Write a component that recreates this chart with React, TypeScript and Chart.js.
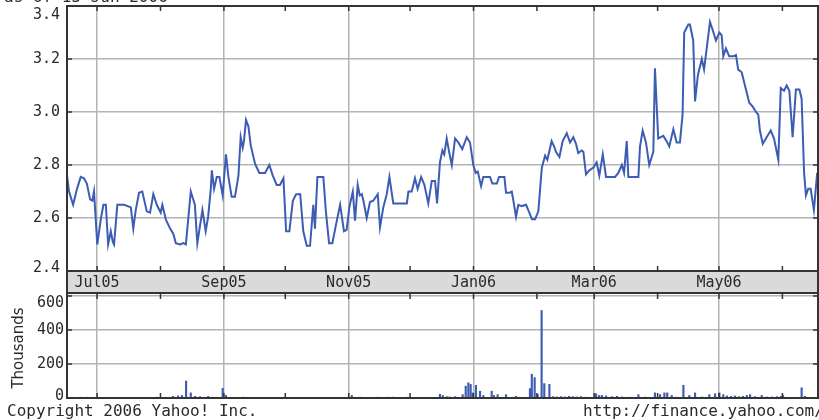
import React, { useEffect, useRef } from "react";
import { Chart, registerables } from "chart.js";
Chart.register(...registerables);

// x values are days counted from 1 Jul 2005
const X_MIN = -14.7;
const X_MAX = 352.4;
const monthTickDays = [0, 31, 62, 92, 123, 153, 184, 215, 243, 274, 304, 335];
const monthTickLabels = ["Jul05", "", "Sep05", "", "Nov05", "", "Jan06", "", "Mar06", "", "May06", ""];
const priceTicks = [2.4, 2.6, 2.8, 3.0, 3.2, 3.4];
const volumeTicks = [0, 200, 400, 600];

const priceDays = [-14.7,-13.7,-11.7,-9.8,-8.0,-6.4,-5.0,-3.4,-2.3,-1.5,0.1,1.8,3.1,4.3,5.4,6.7,7.7,8.3,9.9,13.2,16.5,17.7,18.9,20.5,22.1,24.3,25.9,27.5,29.2,31.1,31.9,33.6,35.7,37.3,38.5,40.6,42.2,43.4,45.8,47.8,49.0,51.5,53.1,54.3,55.6,56.1,57.2,58.5,59.8,61.4,63.0,64.2,65.8,67.4,69.1,70.2,71.2,71.8,72.8,74.0,75.1,77.2,79.3,82.1,84.2,85.9,87.8,89.4,91.1,92.4,94.0,95.7,97.3,99.3,100.8,102.5,104.1,105.7,106.5,107.7,110.6,111.9,113.4,115.0,116.8,118.8,120.7,122.0,123.3,125.0,126.1,127.4,128.4,129.4,130.2,131.8,133.4,135.0,137.2,138.3,139.9,141.6,142.9,144.8,151.4,152.2,153.8,155.4,156.7,158.4,160.0,161.9,163.6,165.2,166.2,167.6,168.8,169.7,170.9,172.2,173.4,175.0,176.6,178.5,180.7,182.3,183.9,185.1,186.1,187.7,188.8,192.1,193.2,195.4,196.5,199.1,199.9,201.5,202.7,203.5,204.8,205.9,207.6,209.7,211.3,212.6,214.1,215.7,217.4,219.0,220.1,222.2,223.4,224.3,226.0,227.6,229.6,231.2,232.8,234.1,235.2,236.9,237.7,239.0,240.6,242.6,244.2,245.5,247.2,248.8,253.2,254.8,256.5,257.6,258.9,259.7,264.6,265.4,266.7,268.3,269.9,271.9,272.7,274.3,276.8,278.4,279.7,281.7,283.3,284.9,286.2,287.0,289.0,289.8,291.4,292.3,293.7,295.6,296.7,298.0,299.6,300.9,302.5,304.2,305.3,306.1,307.4,309.0,311.0,312.3,313.4,315.1,316.7,318.8,320.5,322.1,323.2,324.0,325.4,327.3,329.3,330.9,333.0,334.2,335.8,337.1,338.4,340.0,341.6,343.3,344.4,345.6,346.5,347.6,348.8,350.4,352.0];

const priceValues = [2.76,2.70,2.65,2.71,2.755,2.75,2.73,2.67,2.665,2.70,2.50,2.595,2.65,2.65,2.50,2.55,2.51,2.50,2.65,2.65,2.64,2.56,2.63,2.695,2.70,2.625,2.62,2.69,2.65,2.62,2.65,2.595,2.56,2.54,2.505,2.50,2.505,2.50,2.70,2.65,2.505,2.63,2.55,2.605,2.71,2.78,2.71,2.755,2.755,2.685,2.84,2.755,2.68,2.68,2.76,2.905,2.865,2.89,2.97,2.945,2.875,2.805,2.77,2.77,2.80,2.76,2.725,2.725,2.75,2.55,2.55,2.665,2.69,2.69,2.55,2.495,2.495,2.65,2.56,2.755,2.755,2.62,2.505,2.505,2.575,2.65,2.55,2.555,2.64,2.70,2.59,2.725,2.685,2.69,2.665,2.60,2.66,2.665,2.69,2.565,2.64,2.69,2.755,2.655,2.655,2.70,2.70,2.75,2.71,2.755,2.725,2.655,2.74,2.74,2.655,2.81,2.855,2.84,2.90,2.845,2.80,2.90,2.885,2.86,2.905,2.885,2.80,2.77,2.775,2.72,2.755,2.755,2.73,2.73,2.755,2.755,2.695,2.695,2.70,2.665,2.605,2.65,2.645,2.65,2.62,2.595,2.595,2.625,2.79,2.835,2.82,2.89,2.87,2.85,2.83,2.89,2.92,2.885,2.905,2.88,2.845,2.855,2.85,2.765,2.78,2.79,2.81,2.76,2.84,2.755,2.755,2.77,2.80,2.77,2.89,2.755,2.755,2.87,2.93,2.885,2.80,2.85,3.165,2.90,2.91,2.89,2.87,2.935,2.885,2.885,2.99,3.30,3.33,3.33,3.27,3.04,3.14,3.20,3.16,3.24,3.34,3.31,3.27,3.30,3.29,3.21,3.24,3.21,3.21,3.215,3.16,3.15,3.10,3.035,3.02,3.00,2.99,2.93,2.88,2.905,2.93,2.90,2.82,3.09,3.08,3.10,3.08,2.905,3.085,3.085,3.05,2.77,2.685,2.71,2.71,2.63,2.77];

const volumeDays = [-12.2,-8.3,-4.9,29.3,37.1,39.6,41.5,43.5,45.8,47.9,50.3,54.3,61.4,63.0,71.4,84.6,100.7,124.5,128.5,137.3,142.2,144.7,152.0,167.6,169.0,171.1,172.5,175.0,178.7,180.2,181.5,182.6,183.6,185.2,187.2,188.8,192.9,194.0,195.8,199.9,204.8,211.6,212.5,213.9,215.4,217.3,218.6,221.1,222.9,224.8,226.8,228.7,230.7,232.6,234.6,236.5,239.0,243.9,245.4,246.8,248.8,251.7,254.2,256.6,260.5,264.6,267.9,272.7,275.2,277.3,278.7,280.9,283.5,286.6,289.5,292.3,295.7,299.3,302.1,304.2,306.1,307.9,309.9,311.8,313.7,315.7,317.6,319.2,321.6,324.9,327.5,329.9,332.4,334.3,335.3,344.4,346.0];
const volumeValues = [3,3,3,5,10,12,15,100,30,10,8,10,57,15,5,3,3,15,5,5,5,5,5,22,15,8,6,8,20,70,90,80,30,75,40,15,40,15,20,20,10,55,140,120,20,515,85,80,8,6,8,6,10,8,6,8,5,25,15,15,12,8,10,6,5,20,5,30,20,30,30,15,5,75,15,30,6,20,25,30,20,12,10,12,8,10,15,20,8,15,6,6,8,10,15,60,10];

const headerText = "as of 15-Jun-2006";
const copyrightText = "Copyright 2006 Yahoo! Inc.";
const urlText = "http://finance.yahoo.com/";
const volumeAxisTitle = "Thousands";

const MONO = '"DejaVu Sans Mono", "Liberation Mono", monospace';
const SANS = '"DejaVu Sans", "Liberation Sans", sans-serif';
const TEXT = "#2a2a2a";
const LINE = "#3d5cb4";
const GRID = "#b4b4b4";
const FRAME = "#333333";
const BAND = "#dadada";

const W = 819;
const PRICE_H = 294;
const VOL_H = 126;
const BAND_BOTTOM = 293;

const clamp = (v: number, lo: number, hi: number) => Math.max(lo, Math.min(hi, v));

const pricePlugin = {
  id: "priceDeco",
  beforeDraw(chart: any) {
    const { ctx, chartArea: a } = chart;
    ctx.save();
    ctx.fillStyle = "#ffffff";
    ctx.fillRect(0, 0, chart.width, chart.height);
    ctx.fillStyle = BAND;
    ctx.fillRect(a.left, a.bottom, a.right - a.left, BAND_BOTTOM - a.bottom);
    ctx.restore();
  },
  afterDraw(chart: any) {
    const { ctx, chartArea: a, scales } = chart;
    const xs = scales.x;
    const ys = scales.y;
    ctx.save();
    ctx.strokeStyle = FRAME;
    ctx.lineWidth = 2;
    ctx.beginPath();
    ctx.moveTo(a.left - 1, a.top);
    ctx.lineTo(a.right + 1, a.top);
    ctx.moveTo(a.left, a.top);
    ctx.lineTo(a.left, PRICE_H);
    ctx.moveTo(a.right, a.top);
    ctx.lineTo(a.right, PRICE_H);
    ctx.moveTo(a.left, a.bottom);
    ctx.lineTo(a.right, a.bottom);
    ctx.moveTo(a.left, BAND_BOTTOM);
    ctx.lineTo(a.right, BAND_BOTTOM);
    ctx.stroke();

    ctx.lineWidth = 1.5;
    ctx.beginPath();
    for (const d of monthTickDays) {
      const px = xs.getPixelForValue(d);
      ctx.moveTo(px, a.top);
      ctx.lineTo(px, a.top + 5);
      ctx.moveTo(px, a.bottom - 5);
      ctx.lineTo(px, a.bottom);
    }
    for (const v of priceTicks) {
      const py = ys.getPixelForValue(v);
      ctx.moveTo(a.left, py);
      ctx.lineTo(a.left + 5, py);
      ctx.moveTo(a.right - 5, py);
      ctx.lineTo(a.right, py);
    }
    ctx.stroke();

    ctx.fillStyle = TEXT;
    ctx.font = `15px ${MONO}`;
    ctx.textAlign = "right";
    ctx.textBaseline = "middle";
    for (const v of priceTicks) {
      const py = clamp(ys.getPixelForValue(v), a.top + 9, a.bottom - 3);
      ctx.fillText(v.toFixed(1), a.left - 7, py);
    }
    ctx.font = `16px ${MONO}`;
    ctx.textAlign = "left";
    ctx.textBaseline = "alphabetic";
    ctx.fillText(headerText, 4, 2);
    ctx.restore();
  },
};

const volumePlugin = {
  id: "volDeco",
  beforeDraw(chart: any) {
    const { ctx } = chart;
    ctx.save();
    ctx.fillStyle = "#ffffff";
    ctx.fillRect(0, 0, chart.width, chart.height);
    ctx.restore();
  },
  afterDraw(chart: any) {
    const { ctx, chartArea: a, scales } = chart;
    const xs = scales.x;
    const ys = scales.y;
    ctx.save();
    ctx.strokeStyle = FRAME;
    ctx.lineWidth = 2;
    ctx.beginPath();
    ctx.moveTo(a.left, 0);
    ctx.lineTo(a.left, a.bottom + 1);
    ctx.moveTo(a.right, 0);
    ctx.lineTo(a.right, a.bottom + 1);
    ctx.moveTo(a.left, a.bottom);
    ctx.lineTo(a.right, a.bottom);
    ctx.stroke();

    ctx.lineWidth = 1.5;
    ctx.beginPath();
    for (const d of monthTickDays) {
      const px = xs.getPixelForValue(d);
      ctx.moveTo(px, 0);
      ctx.lineTo(px, 5);
      ctx.moveTo(px, a.bottom - 5);
      ctx.lineTo(px, a.bottom);
    }
    for (const v of volumeTicks) {
      const py = ys.getPixelForValue(v);
      ctx.moveTo(a.left, py);
      ctx.lineTo(a.left + 5, py);
      ctx.moveTo(a.right - 5, py);
      ctx.lineTo(a.right, py);
    }
    ctx.stroke();

    ctx.fillStyle = TEXT;
    ctx.font = `15px ${MONO}`;
    ctx.textAlign = "right";
    ctx.textBaseline = "middle";
    for (const v of volumeTicks) {
      const py = clamp(ys.getPixelForValue(v), a.top + 9, a.bottom - 2);
      ctx.fillText(String(v), a.left - 3, py);
    }

    ctx.save();
    ctx.translate(19, 54);
    ctx.rotate(-Math.PI / 2);
    ctx.font = `15px ${SANS}`;
    ctx.textAlign = "center";
    ctx.textBaseline = "middle";
    ctx.fillText(volumeAxisTitle, 0, 0);
    ctx.restore();

    ctx.font = `16px ${MONO}`;
    ctx.textAlign = "left";
    ctx.textBaseline = "alphabetic";
    ctx.fillText(copyrightText, 7, 122);
    ctx.fillText(urlText, 583, 122);
    ctx.restore();
  },
};

export default function App() {
  const priceRef = useRef<HTMLCanvasElement | null>(null);
  const volRef = useRef<HTMLCanvasElement | null>(null);

  useEffect(() => {
    const monthTickBuilder = (s: any) => {
      s.ticks = monthTickDays.map((v) => ({ value: v }));
    };
    const gridColor = (ctx: any) => (monthTickLabels[ctx.index] ? GRID : "rgba(0,0,0,0)");

    const priceChart = new Chart(priceRef.current as HTMLCanvasElement, {
      type: "line",
      data: {
        datasets: [
          {
            data: priceDays.map((d, i) => ({ x: d, y: priceValues[i] })),
            borderColor: LINE,
            borderWidth: 2,
            pointRadius: 0,
            tension: 0,
            fill: false,
          },
        ],
      },
      options: {
        responsive: false,
        animation: false,
        layout: { padding: { top: 6, right: 1, left: 0, bottom: 0 } },
        plugins: { legend: { display: false }, tooltip: { enabled: false } },
        scales: {
          x: {
            type: "linear",
            min: X_MIN,
            max: X_MAX,
            afterBuildTicks: monthTickBuilder,
            afterFit: (s: any) => {
              s.height = PRICE_H - 271;
            },
            ticks: {
              autoSkip: false,
              maxRotation: 0,
              padding: 3,
              color: TEXT,
              font: { family: MONO, size: 15 },
              callback: (_v: any, i: number) => monthTickLabels[i],
            },
            grid: { color: gridColor, lineWidth: 1.5, drawTicks: false },
            border: { display: false },
          },
          y: {
            type: "linear",
            min: 2.4,
            max: 3.4,
            afterBuildTicks: (s: any) => {
              s.ticks = priceTicks.map((v) => ({ value: v }));
            },
            afterFit: (s: any) => {
              s.width = 67;
            },
            ticks: { display: false },
            grid: { color: GRID, lineWidth: 1.5, drawTicks: false },
            border: { display: false },
          },
        },
      } as any,
      plugins: [pricePlugin],
    });

    const volChart = new Chart(volRef.current as HTMLCanvasElement, {
      type: "bar",
      data: {
        datasets: [
          {
            data: volumeDays.map((d, i) => ({ x: d, y: volumeValues[i] })),
            backgroundColor: LINE,
            borderWidth: 0,
            barThickness: 1.5,
          },
        ],
      },
      options: {
        responsive: false,
        animation: false,
        layout: { padding: { top: 0, right: 1, left: 0, bottom: 0 } },
        plugins: { legend: { display: false }, tooltip: { enabled: false } },
        scales: {
          x: {
            type: "linear",
            min: X_MIN,
            max: X_MAX,
            offset: false,
            afterBuildTicks: monthTickBuilder,
            afterFit: (s: any) => {
              s.height = 22;
            },
            ticks: { display: false },
            grid: { color: gridColor, lineWidth: 1.5, drawTicks: false, offset: false },
            border: { display: false },
          },
          y: {
            type: "linear",
            min: 0,
            max: 612,
            afterBuildTicks: (s: any) => {
              s.ticks = volumeTicks.map((v) => ({ value: v }));
            },
            afterFit: (s: any) => {
              s.width = 67;
            },
            ticks: { display: false },
            grid: { color: GRID, lineWidth: 1.5, drawTicks: false },
            border: { display: false },
          },
        },
      } as any,
      plugins: [volumePlugin],
    });

    return () => {
      priceChart.destroy();
      volChart.destroy();
    };
  }, []);

  return (
    <div
      style={{
        position: "absolute",
        left: 0,
        top: 0,
        width: W,
        height: 420,
        background: "#fff",
        overflow: "hidden",
      }}
    >
      <canvas
        ref={priceRef}
        width={W}
        height={PRICE_H}
        style={{ position: "absolute", left: 0, top: 0, width: W, height: PRICE_H }}
      />
      <canvas
        ref={volRef}
        width={W}
        height={VOL_H}
        style={{ position: "absolute", left: 0, top: PRICE_H, width: W, height: VOL_H }}
      />
    </div>
  );
}
